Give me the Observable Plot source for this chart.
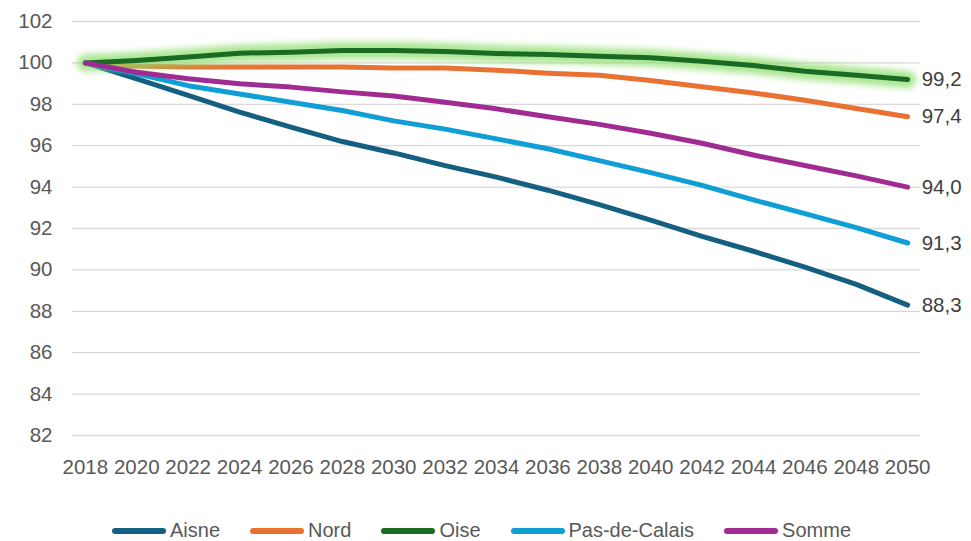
<!DOCTYPE html>
<html>
<head>
<meta charset="utf-8">
<script src="https://cdn.jsdelivr.net/npm/d3@7"></script>
<script src="https://cdn.jsdelivr.net/npm/@observablehq/plot@0.6"></script>
<style>
  html, body { margin: 0; padding: 0; background: #fff; }
  #chart { width: 971px; }
  .legend { display: flex; justify-content: center; align-items: center; gap: 30px;
    font-family: "Liberation Sans", Arial, sans-serif; font-size: 20px; color: #595959;
    margin-top: 29px; margin-left: -8px; }
  .legend .item { display: flex; align-items: center; gap: 4px; }
  .legend .sw { width: 54px; height: 6px; border-radius: 3px; display: inline-block; }
</style>
</head>
<body>
<div id="chart"></div>
<script>
const years = [2018, 2020, 2022, 2024, 2026, 2028, 2030, 2032, 2034, 2036, 2038, 2040, 2042, 2044, 2046, 2048, 2050];
const seriesNames = ["Aisne", "Nord", "Oise", "Pas-de-Calais", "Somme"];
const seriesColors = ["#156082", "#E97132", "#196B24", "#0F9ED5", "#A02B93"];
const aisne = [100, 99.23, 98.43, 97.62, 96.9, 96.2, 95.65, 95.04, 94.48, 93.85, 93.15, 92.4, 91.62, 90.9, 90.13, 89.3, 88.3];
const nord = [100, 99.85, 99.8, 99.8, 99.8, 99.8, 99.75, 99.75, 99.65, 99.5, 99.4, 99.15, 98.85, 98.55, 98.2, 97.8, 97.4];
const oise = [100, 100.12, 100.28, 100.47, 100.52, 100.6, 100.6, 100.55, 100.45, 100.4, 100.32, 100.25, 100.08, 99.87, 99.6, 99.4, 99.2];
const pasDeCalais = [100, 99.47, 98.9, 98.5, 98.1, 97.7, 97.2, 96.8, 96.33, 95.85, 95.28, 94.7, 94.08, 93.38, 92.72, 92.04, 91.3];
const somme = [100, 99.55, 99.23, 98.99, 98.83, 98.6, 98.4, 98.1, 97.78, 97.4, 97.03, 96.6, 96.12, 95.55, 95.04, 94.54, 94.0];
const yTicks = [82, 84, 86, 88, 90, 92, 94, 96, 98, 100, 102];

const allValues = [aisne, nord, oise, pasDeCalais, somme];
const tables = allValues.map((vals, i) => years.map((y, j) => ({year: y, value: vals[j], name: seriesNames[i]})));
const endPoints = tables.map(t => t[t.length - 1]);
const fmt = v => d3.format(".1f")(v).replace(".", ",");

const marks = [
  Plot.gridY(yTicks, {stroke: "#d9d9d9", strokeOpacity: 1, strokeWidth: 1.3}),
  Plot.axisY({ticks: yTicks, tickSize: 0, tickPadding: 20, label: null}),
  Plot.axisX({ticks: years, tickSize: 0, tickPadding: 24, tickFormat: d => String(d), label: null})
];
tables.forEach((t, i) => {
  if (seriesNames[i] === "Oise") {
    marks.push(Plot.line(t, {x: "year", y: "value", stroke: "#8ede6c", strokeWidth: 17, strokeOpacity: 0.75,
      strokeLinecap: "round", strokeLinejoin: "round", className: "glowline"}));
  }
  marks.push(Plot.line(t, {x: "year", y: "value", stroke: seriesColors[i], strokeWidth: 5,
    strokeLinecap: "round", strokeLinejoin: "round"}));
});
marks.push(Plot.text(endPoints, {x: "year", y: "value", text: d => fmt(d.value), textAnchor: "start", dx: 14,
  fill: "#404040", fontSize: 20.5}));

const chart = Plot.plot({
  width: 971,
  height: 490,
  marginLeft: 72,
  marginRight: 51,
  marginTop: 21,
  marginBottom: 55,
  x: {domain: [2017.5, 2050.5]},
  y: {domain: [82, 102]},
  style: {fontSize: "20.5px", fontFamily: "'Liberation Sans', Arial, sans-serif", color: "#595959", background: "#fff", overflow: "visible"},
  marks
});
const NS = "http://www.w3.org/2000/svg";
const defs = document.createElementNS(NS, "defs");
const filter = document.createElementNS(NS, "filter");
filter.setAttribute("id", "glowblur");
filter.setAttribute("filterUnits", "userSpaceOnUse");
filter.setAttribute("x", "0"); filter.setAttribute("y", "0");
filter.setAttribute("width", "971"); filter.setAttribute("height", "490");
const blur = document.createElementNS(NS, "feGaussianBlur");
blur.setAttribute("stdDeviation", "3");
filter.appendChild(blur);
defs.appendChild(filter);
chart.insertBefore(defs, chart.firstChild);
chart.querySelectorAll(".glowline").forEach(g => g.setAttribute("filter", "url(#glowblur)"));
document.getElementById("chart").appendChild(chart);

const legend = document.createElement("div");
legend.className = "legend";
seriesNames.forEach((n, i) => {
  const item = document.createElement("div");
  item.className = "item";
  const sw = document.createElement("span");
  sw.className = "sw";
  sw.style.background = seriesColors[i];
  const lab = document.createElement("span");
  lab.textContent = n;
  item.appendChild(sw); item.appendChild(lab);
  legend.appendChild(item);
});
document.getElementById("chart").appendChild(legend);
</script>
</body>
</html>
